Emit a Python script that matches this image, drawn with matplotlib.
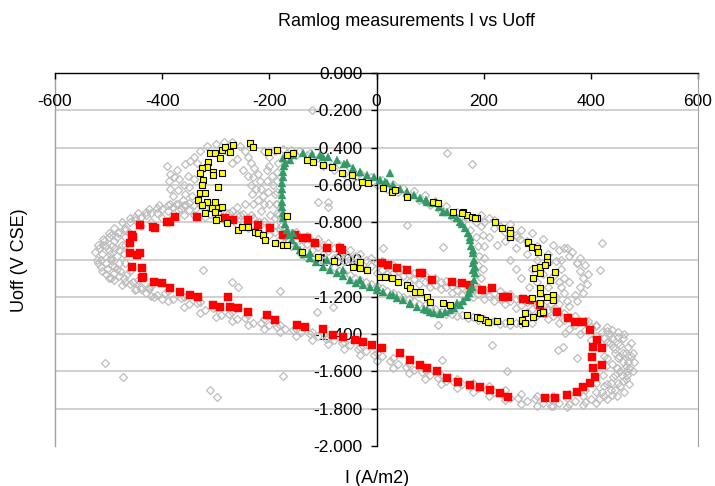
import matplotlib
matplotlib.use("Agg")
import matplotlib.pyplot as plt
from matplotlib.ticker import FuncFormatter

plt.rcParams['font.family'] = ['Liberation Sans', 'DejaVu Sans']
plt.rcParams['axes.unicode_minus'] = False

# --- данные: (I, Uoff) ---
red_pts = [
    (-441, -0.815), (-417, -0.825), (-385, -0.80), (-456, -0.87), (-460, -0.91),
    (-460, -0.965), (-441, -0.965), (-456, -1.04), (-438, -1.046), (-438, -1.10),
    (-415, -1.12), (-400, -1.127), (-385, -1.153), (-366, -1.174), (-348, -1.19),
    (-333, -1.20), (-305, -1.244), (-292, -1.255), (-277, -1.20), (-273, -1.255),
    (-258, -1.26), (-240, -1.28), (-204, -1.30), (-189, -1.324), (-148, -1.35),
    (-133, -1.36), (-100, -1.37), (-81, -1.405), (-63, -1.415), (-40, -1.43),
    (-25, -1.44), (-8, -1.46), (10, -1.475), (44, -1.50), (62, -1.54),
    (81, -1.566), (94, -1.58), (113, -1.60), (131, -1.635), (152, -1.657),
    (174, -1.673), (193, -1.684), (212, -1.70), (230, -1.716), (245, -1.737),
    (314, -1.743), (333, -1.743), (355, -1.727), (374, -1.71), (386, -1.684),
    (398, -1.662), (408, -1.63), (404, -1.58), (421, -1.566), (402, -1.523),
    (421, -1.475), (404, -1.47), (411, -1.43), (398, -1.378), (386, -1.335),
    (370, -1.335), (357, -1.314), (337, -1.28), (286, -1.217), (305, -1.244),
    (311, -1.287), (245, -1.20), (236, -1.20), (215, -1.153), (197, -1.163),
    (174, -1.137), (160, -1.126), (141, -1.12), (103, -1.11), (85, -1.07),
    (-137, -0.885), (-115, -0.91), (-93, -0.94), (-65, -0.95), (-68, -0.94),
    (10, -1.02), (22, -1.03), (38, -1.046), (57, -1.056), (81, -1.07),
    (273, -1.21), (-413, -0.83), (-391, -0.80), (-376, -0.77), (-335, -0.77),
    (-283, -0.78), (-268, -0.79), (-240, -0.79), (-221, -0.815), (-199, -0.83),
    (-174, -0.87), (-152, -0.87), (-130, -0.885), (-454, -0.88), (-447, -0.976),
    (-436, -1.094),
]

green_pts = [
    (-174, -0.456), (-137, -0.43), (-105, -0.44), (-74, -0.466), (-44, -0.51),
    (-18, -0.547), (7, -0.574), (25, -0.536), (31, -0.60), (57, -0.638),
    (81, -0.67), (105, -0.697), (131, -0.745), (150, -0.777), (165, -0.83),
    (174, -0.895), (180, -0.965), (180, -1.02), (184, -1.07), (178, -1.147),
    (169, -1.20), (156, -1.244), (137, -1.27), (118, -1.287), (100, -1.28),
    (75, -1.255), (50, -1.217), (25, -1.19), (1, -1.163), (-25, -1.137),
    (-49, -1.11), (-74, -1.07), (-100, -1.04), (-124, -0.99), (-143, -0.95),
    (-158, -0.895), (-167, -0.84), (-174, -0.777), (-176, -0.718), (-176, -0.654),
    (-176, -0.59), (-174, -0.53), (-171, -0.483),
    (-100, -0.45), (-55, -0.483), (20, -0.59), (57, -0.645), (94, -0.69),
    (124, -0.745), (156, -0.80), (174, -0.88), (180, -0.95), (180, -1.056),
    (174, -1.16), (150, -1.233), (118, -1.29), (94, -1.27), (62, -1.233),
    (31, -1.19), (1, -1.147), (-31, -1.11), (-63, -1.056), (-93, -1.003),
    (-124, -0.965), (-156, -0.86), (-161, -0.466),
    (-155, -0.44), (-120, -0.435), (-90, -0.45), (-60, -0.49), (-30, -0.53),
    (-5, -0.56), (15, -0.585), (44, -0.62), (70, -0.655), (92, -0.68),
    (117, -0.72), (140, -0.76), (160, -0.81), (170, -0.86), (177, -0.93),
    (182, -1.0), (183, -1.04), (182, -1.11), (173, -1.18), (162, -1.22),
    (145, -1.26), (128, -1.28), (108, -1.285), (88, -1.268), (62, -1.24),
    (38, -1.205), (12, -1.175), (-12, -1.15), (-38, -1.125), (-62, -1.09),
    (-87, -1.055), (-112, -1.015), (-135, -0.97), (-150, -0.925), (-163, -0.87),
    (-170, -0.81), (-175, -0.75), (-177, -0.69), (-177, -0.62), (-175, -0.56),
    (-173, -0.50),
]

yellow_pts = [
    (-311, -0.43), (-301, -0.43), (-288, -0.413), (-283, -0.397), (-268, -0.386),
    (-273, -0.424), (-292, -0.456), (-314, -0.477), (-316, -0.504), (-326, -0.51),
    (-329, -0.536), (-305, -0.53), (-305, -0.547), (-288, -0.536), (-324, -0.574),
    (-326, -0.60), (-296, -0.61), (-329, -0.643), (-320, -0.643), (-333, -0.68),
    (-316, -0.69), (-301, -0.69), (-326, -0.708), (-307, -0.724), (-296, -0.724),
    (-288, -0.718), (-301, -0.745), (-320, -0.75), (-296, -0.777), (-299, -0.79),
    (-236, -0.375), (-230, -0.397), (-202, -0.424), (-186, -0.413), (-167, -0.44),
    (-156, -0.43), (-279, -0.804), (-258, -0.84), (-251, -0.826), (-240, -0.826),
    (-227, -0.853), (-221, -0.858), (-212, -0.869), (-208, -0.895), (-189, -0.91),
    (-174, -0.922), (-167, -0.922), (-167, -0.767), (-139, -0.96),
    (-130, -0.466), (-118, -0.477), (-100, -0.493), (-83, -0.504), (-65, -0.536),
    (-46, -0.547), (-27, -0.584), (-16, -0.59), (12, -0.617), (29, -0.638),
    (35, -0.627), (57, -0.665), (105, -0.69), (115, -0.697), (143, -0.745),
    (162, -0.745), (169, -0.761), (178, -0.772), (188, -0.777), (221, -0.80),
    (234, -0.83), (249, -0.84), (249, -0.88), (283, -0.91),
    (-110, -0.985), (-80, -1.01), (-44, -1.04), (-31, -1.046), (-18, -1.056),
    (7, -1.094), (16, -1.094), (29, -1.10), (40, -1.12), (57, -1.137),
    (62, -1.153), (72, -1.174), (81, -1.174), (94, -1.20), (100, -1.228),
    (124, -1.233), (137, -1.244), (169, -1.30), (188, -1.308), (202, -1.324),
    (225, -1.33), (249, -1.33), (271, -1.33), (-31, -1.013),
    (160, -0.75), (184, -0.777), (249, -0.858), (283, -0.906), (290, -0.933),
    (299, -0.94), (301, -0.96), (318, -0.987), (318, -1.013), (296, -1.046),
    (305, -1.04), (314, -1.03), (305, -1.07), (333, -1.067), (292, -1.10),
    (323, -1.11), (305, -1.153), (305, -1.18), (290, -1.206), (318, -1.20),
    (329, -1.19), (329, -1.217), (305, -1.233), (277, -1.287), (292, -1.308),
    (305, -1.287), (311, -1.28), (271, -1.324), (277, -1.34), (208, -1.335),
    (193, -1.314),
]

grey_loop_outer = [
    (-480, -0.85), (-460, -0.80), (-440, -0.77), (-420, -0.75), (-400, -0.73),
    (-380, -0.72), (-360, -0.71), (-340, -0.71), (-320, -0.72), (-300, -0.73),
    (-280, -0.75), (-260, -0.76), (-240, -0.78), (-220, -0.80), (-200, -0.82),
    (-180, -0.84), (-160, -0.86), (-140, -0.88), (-120, -0.90), (-100, -0.92),
    (-80, -0.94), (-60, -0.96), (-40, -0.98), (-20, -1.00), (0, -1.02),
    (20, -1.04), (40, -1.06), (60, -1.08), (80, -1.09), (100, -1.11),
    (120, -1.12), (140, -1.14), (160, -1.15), (180, -1.16), (200, -1.17),
    (220, -1.18), (240, -1.19), (260, -1.21), (280, -1.23), (300, -1.25),
    (320, -1.27), (340, -1.29), (360, -1.31), (380, -1.33), (400, -1.36),
    (420, -1.39), (440, -1.42), (455, -1.46), (465, -1.50), (470, -1.55),
    (468, -1.60), (460, -1.65), (445, -1.70), (425, -1.73), (400, -1.75),
    (370, -1.76), (340, -1.77), (310, -1.77), (280, -1.76), (250, -1.74),
    (220, -1.71), (190, -1.69), (160, -1.67), (130, -1.65), (100, -1.62),
    (70, -1.59), (40, -1.56), (10, -1.52), (-20, -1.49), (-50, -1.46),
    (-80, -1.43), (-110, -1.41), (-140, -1.39), (-170, -1.37), (-200, -1.35),
    (-230, -1.34), (-260, -1.32), (-290, -1.30), (-320, -1.27), (-350, -1.24),
    (-380, -1.21), (-410, -1.19), (-440, -1.16), (-470, -1.12), (-490, -1.07),
    (-505, -1.02), (-512, -0.97), (-510, -0.92), (-500, -0.88),
]

grey_loop_mid = [
    (-470, -0.83), (-450, -0.79), (-430, -0.76), (-410, -0.75), (-390, -0.74),
    (-370, -0.735), (-350, -0.735), (-330, -0.745), (-310, -0.755), (-290, -0.77),
    (-270, -0.785), (-250, -0.80), (-230, -0.815), (-210, -0.835), (-190, -0.855),
    (-170, -0.875), (-150, -0.895), (-130, -0.915), (-110, -0.935), (-90, -0.955),
    (-70, -0.975), (-50, -0.995), (-30, -1.015), (-10, -1.035), (10, -1.055),
    (30, -1.07), (50, -1.09), (70, -1.105), (90, -1.12), (110, -1.135),
    (130, -1.15), (150, -1.165), (170, -1.175), (190, -1.185), (210, -1.195),
    (230, -1.21), (250, -1.225), (270, -1.245), (290, -1.265), (310, -1.285),
    (330, -1.305), (350, -1.325), (370, -1.35), (390, -1.38), (410, -1.41),
    (430, -1.44), (445, -1.48), (450, -1.53), (448, -1.58), (442, -1.63),
    (430, -1.67), (410, -1.71), (385, -1.73), (355, -1.745), (325, -1.75),
    (295, -1.75), (265, -1.74), (235, -1.72), (205, -1.70), (175, -1.68),
    (145, -1.655), (115, -1.635), (85, -1.605), (55, -1.575), (25, -1.545),
    (-5, -1.51), (-35, -1.48), (-65, -1.45), (-95, -1.425), (-125, -1.40),
    (-155, -1.38), (-185, -1.36), (-215, -1.34), (-245, -1.315), (-275, -1.29),
    (-305, -1.26), (-335, -1.235), (-365, -1.205), (-395, -1.18), (-425, -1.15),
    (-455, -1.12), (-480, -1.09), (-490, -1.04), (-495, -0.99), (-493, -0.93),
    (-485, -0.88),
]

grey_loop_extra = [
    (-450, -0.77), (-430, -0.745), (-410, -0.725), (-390, -0.71), (-370, -0.70),
    (-350, -0.695), (-330, -0.70), (-310, -0.71), (-290, -0.725), (-270, -0.74),
    (-250, -0.755), (-230, -0.775), (-210, -0.795), (-190, -0.815), (-170, -0.835),
    (-150, -0.855), (-130, -0.875), (-110, -0.89), (-90, -0.91), (-70, -0.93),
    (-50, -0.95), (-30, -0.97), (-10, -0.99), (10, -1.01), (30, -1.03),
    (50, -1.05), (70, -1.07), (90, -1.085), (110, -1.10), (130, -1.115),
    (150, -1.13), (170, -1.14), (190, -1.15), (210, -1.16), (230, -1.17),
    (250, -1.185), (270, -1.205), (290, -1.225), (310, -1.245), (330, -1.265),
    (350, -1.285), (370, -1.305), (390, -1.33), (410, -1.355), (430, -1.385),
    (450, -1.415),
    (440, -1.725), (415, -1.75), (390, -1.765), (360, -1.775), (330, -1.785),
    (300, -1.785), (270, -1.775), (240, -1.755), (210, -1.73), (180, -1.71),
    (150, -1.69), (120, -1.665), (90, -1.64), (60, -1.61), (30, -1.58),
    (0, -1.545), (-30, -1.51), (-60, -1.48), (-90, -1.455), (-120, -1.43),
    (-150, -1.41), (-180, -1.39), (-210, -1.37), (-240, -1.35), (-270, -1.33),
    (-300, -1.31), (-330, -1.285), (-360, -1.255), (-390, -1.225), (-420, -1.195),
    (-450, -1.165), (-475, -1.135), (-495, -1.10),
]

grey_loop_inner = [
    (-460, -0.86), (-440, -0.82), (-420, -0.80), (-400, -0.78), (-380, -0.77),
    (-360, -0.76), (-340, -0.76), (-320, -0.77), (-300, -0.78), (-280, -0.80),
    (-260, -0.81), (-240, -0.83), (-220, -0.85), (-200, -0.87), (-180, -0.89),
    (-160, -0.91), (-140, -0.93), (-120, -0.95), (-100, -0.97), (-80, -0.99),
    (-60, -1.01), (-40, -1.03), (-20, -1.05), (0, -1.07), (20, -1.08),
    (40, -1.10), (60, -1.12), (80, -1.13), (100, -1.15), (120, -1.16),
    (140, -1.18), (160, -1.19), (180, -1.20), (200, -1.21), (220, -1.22),
    (240, -1.24), (260, -1.26), (280, -1.28), (300, -1.30), (320, -1.32),
    (340, -1.34), (360, -1.37), (380, -1.40), (400, -1.43), (415, -1.47),
    (425, -1.52), (428, -1.57), (422, -1.62), (410, -1.66), (390, -1.70),
    (360, -1.72), (330, -1.73), (300, -1.73), (270, -1.72), (240, -1.70),
    (210, -1.68), (180, -1.66), (150, -1.64), (120, -1.62), (90, -1.59),
    (60, -1.56), (30, -1.53), (0, -1.50), (-30, -1.47), (-60, -1.44),
    (-90, -1.42), (-120, -1.39), (-150, -1.37), (-180, -1.35), (-210, -1.32),
    (-240, -1.30), (-270, -1.28), (-300, -1.26), (-330, -1.23), (-360, -1.20),
    (-390, -1.17), (-420, -1.14), (-445, -1.11), (-460, -1.06), (-470, -1.02),
    (-472, -0.97), (-470, -0.92),
]

grey_tips = [
    (-520, -0.92), (-525, -0.96), (-522, -1.00), (-515, -1.04), (-505, -1.08),
    (-490, -1.11), (-500, -0.86), (-490, -0.83), (-475, -0.80), (-500, -0.95),
    (-495, -1.00), (-490, -0.90), (-485, -1.05), (-480, -0.95), (-470, -0.88),
    (-465, -1.08), (-455, -1.12), (-440, -1.15), (-425, -1.16), (-510, -0.89),
    (-515, -1.00), (-497, -0.97), (-480, -1.02), (-505, -0.93), (-470, -0.84),
    (-518, -0.94), (-512, -1.06), (-500, -1.10), (-508, -0.90), (-495, -0.87),
    (-482, -0.86), (-475, -0.92), (-488, -0.94), (-493, -1.03), (-478, -1.06),
    (-472, -1.10), (-460, -1.13), (-448, -1.16), (-430, -1.18), (-415, -1.20),
    (-400, -1.21), (-460, -0.78), (-445, -0.75), (-425, -0.73), (-405, -0.71),
    (-385, -0.70), (-520, -1.02), (-503, -1.05), (-485, -0.98),
    (460, -1.42), (470, -1.47), (475, -1.52), (472, -1.58), (465, -1.64),
    (455, -1.68), (450, -1.45), (460, -1.55), (455, -1.60), (445, -1.50),
    (440, -1.38), (430, -1.36), (445, -1.62), (450, -1.66), (438, -1.70),
    (420, -1.71), (460, -1.50), (468, -1.62), (440, -1.56), (435, -1.45),
    (410, -1.35), (395, -1.33), (452, -1.52),
    (475, -1.45), (478, -1.50), (480, -1.55), (478, -1.60), (472, -1.67),
    (462, -1.71), (448, -1.73), (430, -1.75), (410, -1.77), (385, -1.78),
    (355, -1.79), (325, -1.785), (462, -1.40), (450, -1.39), (435, -1.40),
    (425, -1.42), (442, -1.47), (448, -1.58), (458, -1.62), (437, -1.66),
    (425, -1.68), (465, -1.57), (470, -1.52), (430, -1.53),
]

grey_upper = [
    (-391, -0.50), (-385, -0.54), (-388, -0.58), (-385, -0.62), (-380, -0.66),
    (-375, -0.70), (-365, -0.73), (-372, -0.52), (-368, -0.57), (-370, -0.63),
    (-362, -0.68), (-358, -0.49), (-348, -0.47), (-340, -0.45), (-352, -0.55),
    (-350, -0.61), (-345, -0.66), (-355, -0.71), (-340, -0.57), (-330, -0.42),
    (-316, -0.39), (-300, -0.38), (-285, -0.37), (-270, -0.37), (-255, -0.39),
    (-245, -0.42), (-240, -0.45), (-235, -0.48), (-228, -0.51), (-222, -0.54),
    (-218, -0.58), (-215, -0.62), (-212, -0.66), (-210, -0.70), (-230, -0.56),
    (-225, -0.62), (-222, -0.68), (-260, -0.46), (-270, -0.48), (-250, -0.52),
    (-245, -0.70), (-260, -0.72), (-275, -0.75), (-255, -0.76), (-200, -0.50),
    (-195, -0.55), (-193, -0.60), (-190, -0.65), (-188, -0.70), (-185, -0.75),
    (-200, -0.45), (-210, -0.42), (-190, -0.78), (-280, -0.42),
    (-240, -0.55), (-235, -0.60), (-232, -0.65), (-230, -0.70), (-205, -0.52),
    (-205, -0.58), (-203, -0.64), (-200, -0.70), (-198, -0.76), (-215, -0.74),
    (-235, -0.76), (-190, -0.42), (-175, -0.41), (-160, -0.415), (-145, -0.42),
    (-125, -0.43), (-378, -0.56), (-360, -0.60), (-357, -0.65), (-335, -0.48),
    (-183, -0.48), (-185, -0.53), (-186, -0.58), (-186, -0.64), (-185, -0.70),
    (-183, -0.76), (-178, -0.82), (-170, -0.88), (-160, -0.93), (-165, -0.46),
    (-150, -0.44), (-130, -0.44), (-110, -0.455),
    (-100, -0.50), (-80, -0.52), (-60, -0.54), (-40, -0.56), (-20, -0.58),
    (0, -0.60), (20, -0.62), (40, -0.64), (60, -0.66), (80, -0.68),
    (100, -0.71), (120, -0.74), (140, -0.77), (160, -0.80), (175, -0.84),
    (185, -0.88), (190, -0.93), (192, -0.98), (190, -1.03), (185, -1.08),
    (180, -1.13),
    (-90, -0.47), (-70, -0.49), (-50, -0.51), (-30, -0.535), (-10, -0.555),
    (10, -0.575), (30, -0.595), (50, -0.615), (70, -0.635), (90, -0.655),
    (110, -0.685), (130, -0.715), (150, -0.745), (170, -0.775), (185, -0.80),
    (195, -0.82), (198, -0.87), (200, -0.93), (200, -0.99), (198, -1.05),
    (195, -1.10), (190, -1.16),
    (200, -0.80), (220, -0.83), (240, -0.85), (260, -0.87), (280, -0.90),
    (300, -0.93), (320, -0.97), (335, -1.01), (345, -1.05), (350, -1.10),
    (345, -1.15), (335, -1.20), (325, -1.24),
    (262, -0.88), (340, -0.95), (360, -0.98), (375, -1.02), (380, -1.06),
    (385, -1.10), (380, -1.15), (370, -1.19), (355, -1.22), (340, -1.24),
    (330, -1.09), (345, -1.00), (360, -1.12), (350, -1.18), (210, -0.78),
    (230, -0.82), (250, -0.85), (268, -0.89), (195, -0.76), (240, -0.90),
    (260, -0.94), (280, -0.97), (300, -1.00), (290, -1.05),
    (220, -0.79), (250, -0.81), (270, -0.84), (290, -0.86), (310, -0.89),
    (330, -0.92), (350, -0.94), (365, -0.96), (380, -0.99), (390, -1.03),
    (395, -1.08), (392, -1.13), (385, -1.18), (375, -1.22), (360, -1.25),
    (320, -1.02), (310, -1.08), (340, -1.12), (320, -1.15), (300, -1.12),
    (285, -1.15), (270, -1.10), (260, -1.05), (250, -1.00), (225, -0.92),
    (210, -0.88),
]

grey_lower = [
    (-140, -0.97), (-120, -0.99), (-100, -1.01), (-80, -1.04), (-60, -1.07),
    (-40, -1.10), (-20, -1.12), (0, -1.14), (20, -1.17), (40, -1.19),
    (60, -1.21), (80, -1.24), (100, -1.26), (120, -1.28), (140, -1.29),
    (160, -1.30), (180, -1.31), (200, -1.32), (220, -1.33), (240, -1.34),
    (260, -1.34),
    (-130, -0.99), (-110, -1.01), (-90, -1.035), (-70, -1.06), (-50, -1.085),
    (-30, -1.11), (-10, -1.13), (10, -1.155), (30, -1.18), (50, -1.20),
    (70, -1.225), (90, -1.245), (110, -1.265), (130, -1.29), (150, -1.305),
    (170, -1.315), (190, -1.325), (210, -1.335), (230, -1.345), (250, -1.35),
    (270, -1.345), (290, -1.34),
]

grey_outliers = [
    (-120, -0.20), (131, -0.43), (178, -0.49), (-507, -1.555), (-473, -1.63),
    (-324, -1.056), (-270, -1.12), (-258, -1.147), (-180, -1.17), (-174, -1.625),
    (-311, -1.70), (-298, -1.737), (-111, -1.28), (-81, -1.255), (115, -1.35),
    (122, -1.539), (421, -0.91), (417, -1.056), (215, -1.46), (243, -1.60),
    (351, -1.395), (339, -1.485), (348, -1.47), (374, -1.53), (355, -0.94),
    (374, -1.02), (57, -0.815), (124, -0.933), (12, -0.94), (-109, -0.69),
    (-90, -0.69), (-90, -0.72),
]

y_ticks = [0.0, -0.2, -0.4, -0.6, -0.8, -1.0, -1.2, -1.4, -1.6, -1.8, -2.0]
x_ticks = [-600, -400, -200, 0, 200, 400, 600]


def split(pts):
    return [p[0] for p in pts], [p[1] for p in pts]


fig = plt.figure(figsize=(7.15, 4.86), dpi=100)
ax = fig.add_axes([55 / 715, 1 - 446 / 486, 643 / 715, 373 / 486])
ax.set_xlim(-600, 600)
ax.set_ylim(-2.0, 0.0)

# сетка
for y in y_ticks[1:-1]:
    ax.axhline(y, color='#c8c8c8', lw=1.2, zorder=0)

# серые ромбы (полые)
grey_all = (grey_loop_outer + grey_loop_mid + grey_loop_extra + grey_loop_inner
            + grey_tips + grey_upper + grey_lower + grey_outliers)
gx, gy = split(grey_all)
ax.plot(gx, gy, linestyle='none', marker='D', markersize=4.2,
        markerfacecolor='none', markeredgecolor='#bdbdbd', markeredgewidth=0.9, zorder=2)

rx, ry = split(red_pts)
ax.plot(rx, ry, linestyle='none', marker='s', markersize=5.6,
        markerfacecolor='#ff0000', markeredgecolor='#ff0000', markeredgewidth=0.3, zorder=3)

grx, gry = split(green_pts)
ax.plot(grx, gry, linestyle='none', marker='^', markersize=5.8,
        markerfacecolor='#339966', markeredgecolor='#339966', markeredgewidth=0.3, zorder=4)

yx, yy = split(yellow_pts)
ax.plot(yx, yy, linestyle='none', marker='s', markersize=5.0,
        markerfacecolor='#ffff00', markeredgecolor='black', markeredgewidth=0.8, zorder=5)

# оси: x сверху по линии 0, y по линии I = 0
ax.spines['bottom'].set_visible(False)
ax.spines['top'].set_color('black')
ax.spines['top'].set_linewidth(1.0)
ax.spines['left'].set_position(('data', 0))
ax.spines['left'].set_color('black')
ax.spines['left'].set_linewidth(1.0)
ax.spines['right'].set_color('#a0a0a0')
ax.axvline(-600, color='#a0a0a0', lw=1.0, clip_on=False, zorder=1)

ax.xaxis.set_ticks_position('top')
ax.set_xticks(x_ticks)
ax.tick_params(axis='x', direction='in', length=4, width=1, colors='black',
               labelsize=12.5, pad=-26)
ax.set_yticks(y_ticks)
ax.yaxis.set_major_formatter(FuncFormatter(lambda v, p: f"{v:.3f}"))
ax.yaxis.set_ticks_position('left')
ax.tick_params(axis='y', direction='out', length=4, width=1, colors='black',
               labelsize=12.5, pad=6)

fig.text(406 / 715, 1 - 22 / 486, 'Ramlog measurements I vs Uoff',
         ha='center', va='center', fontsize=13)
fig.text(377 / 715, 1 - 478 / 486, 'I (A/m2)', ha='center', va='center', fontsize=13)
fig.text(20 / 715, 1 - 260 / 486, 'Uoff (V CSE)', ha='center', va='center',
         rotation=90, fontsize=13)

fig.savefig('out.png', dpi=100)
